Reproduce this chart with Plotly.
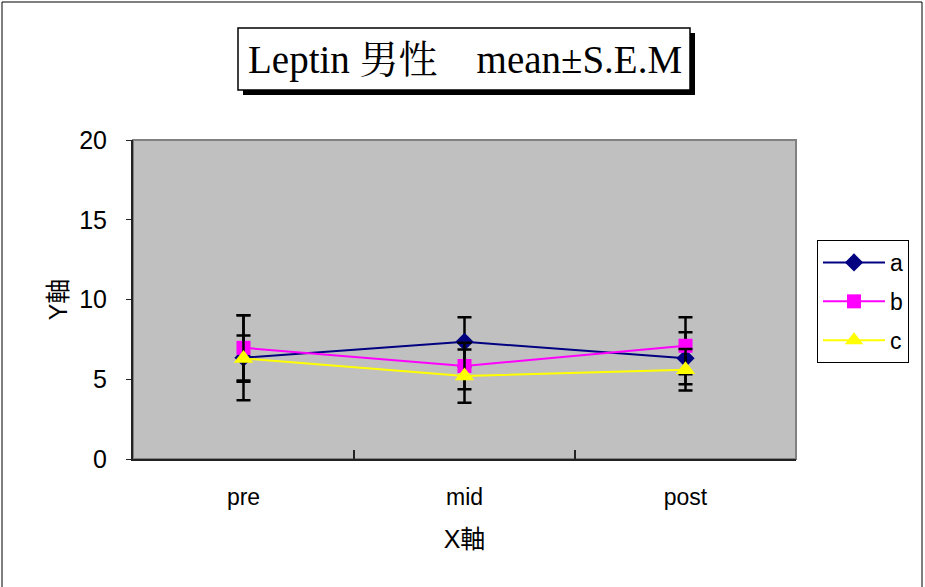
import plotly.graph_objects as go

categories = ["pre", "mid", "post"]

a_mean = [6.35, 7.35, 6.31]
a_sem = [2.67, 1.53, 1.63]
b_mean = [6.97, 5.83, 7.10]
b_sem = [2.05, 1.46, 1.78]
c_mean = [6.30, 5.20, 5.60]
c_sem = [1.45, 1.67, 1.30]

series = [
    ("a", a_mean, a_sem, "#000080", "diamond", 14),
    ("b", b_mean, b_sem, "#FF00FF", "square", 14),
    ("c", c_mean, c_sem, "#FFFF00", "triangle-up", 17),
]

W, H = 925, 587
L, R, T, B = 133, 129, 140, 128
pw, ph = W - L - R, H - T - B


def px(x):
    return (x - L) / pw


def py(y):
    return (H - B - y) / ph


fig = go.Figure()
for name, mean, sem, color, symbol, size in series:
    fig.add_trace(go.Scatter(
        x=categories, y=mean, name=name, legendgroup=name,
        mode="lines+markers",
        line=dict(color=color, width=2),
        marker=dict(symbol=symbol, size=size, color=color),
        error_y=dict(type="data", array=sem, visible=True,
                     color="black", thickness=2.5, width=7),
    ))

sans = "Liberation Sans, Noto Sans CJK JP, sans-serif"

fig.update_layout(
    width=W, height=H,
    margin=dict(l=L, r=R, t=T, b=B),
    paper_bgcolor="white",
    plot_bgcolor="#C0C0C0",
    font=dict(family=sans, size=24, color="black"),
    xaxis=dict(
        type="category", range=[-0.5, 2.5], tickson="boundaries",
        ticks="inside", ticklen=9, tickwidth=2, tickcolor="#222",
        showline=True, linecolor="#222", linewidth=2,
        showgrid=False, ticklabelstandoff=16, tickfont=dict(size=23),
        title=dict(text="X軸", font=dict(size=25), standoff=22),
    ),
    yaxis=dict(
        range=[0, 20], dtick=5, ticks="outside", ticklen=5, tickcolor="#222",
        showline=True, linecolor="#222", linewidth=2,
        showgrid=False, zeroline=False, ticklabelstandoff=14,
        tickfont=dict(size=25),
        title=dict(text="Y軸", font=dict(size=25), standoff=4),
    ),
    legend=dict(
        x=px(817), y=py(240), xanchor="left", yanchor="top",
        bgcolor="white", bordercolor="black", borderwidth=1,
        font=dict(size=23), itemwidth=62, tracegroupgap=6,
    ),
    showlegend=True,
)

shapes = [
    # outer chart border
    dict(type="rect", xref="paper", yref="paper",
         x0=px(2), x1=px(922), y0=py(2), y1=py(600),
         line=dict(color="black", width=1), layer="below"),
    # plot area border
    dict(type="rect", xref="paper", yref="paper",
         x0=0, x1=1, y0=0, y1=1,
         line=dict(color="#808080", width=2), layer="below"),
    # title shadow
    dict(type="rect", xref="paper", yref="paper",
         x0=px(243), x1=px(695), y0=py(33), y1=py(95),
         fillcolor="black", line=dict(width=0), layer="above"),
    # title box
    dict(type="rect", xref="paper", yref="paper",
         x0=px(238), x1=px(690), y0=py(28), y1=py(90),
         fillcolor="white", line=dict(color="black", width=1.5), layer="above"),
]
fig.update_layout(shapes=shapes)

fig.add_annotation(
    text="Leptin 男性　mean±S.E.M",
    xref="paper", yref="paper", x=px(465), y=py(60),
    xanchor="center", yanchor="middle", showarrow=False,
    font=dict(family="Liberation Serif, Noto Serif CJK JP, Noto Sans CJK JP, serif",
              size=39, color="black"),
)

fig.write_html("out.html", config={"displayModeBar": False},
               post_script="document.body.style.margin='0';")
